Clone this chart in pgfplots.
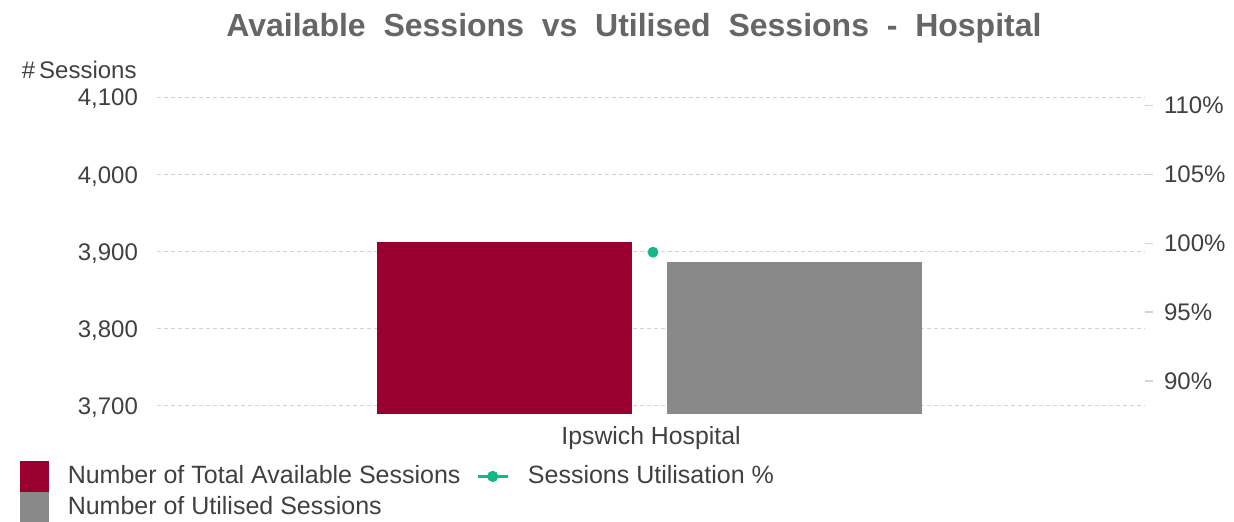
\documentclass[border=0pt]{standalone}
\usepackage{fontspec}
\setmainfont{Liberation Sans}
\usepackage{pgfplots}
\pgfplotsset{compat=1.18}
\definecolor{myred}{HTML}{990030}
\definecolor{mygray}{HTML}{898989}
\definecolor{mygreen}{HTML}{12B888}
\definecolor{txt}{HTML}{404040}
\definecolor{gridc}{HTML}{D4D4D4}
\definecolor{titlec}{HTML}{666666}
\begin{document}
\begin{tikzpicture}
\begin{axis}[
  at={(0,0)}, anchor=south west, scale only axis,
  width=494pt, height=158.5pt,
  xmin=-494, xmax=494, ymin=3689.6, ymax=4100,
  axis line style={draw=none},
  tick style={draw=none},
  ytick={3700,3800,3900,4000,4100},
  yticklabel style={text=txt, font=\fontsize{12}{14}\selectfont, xshift=-6pt, yshift=-1pt},
  /pgf/number format/.cd, 1000 sep={,}, assume math mode=true, /pgfplots/.cd,
  ymajorgrids,
  grid style={gridc, line width=0.5pt, dash pattern=on 2pt off 1.5pt},
  xtick={0}, xticklabels={Ipswich Hospital},
  xticklabel style={text=txt, font=\fontsize{12.4}{14}\selectfont, yshift=-2.5pt},
  clip=false,
]
\addplot[ybar, bar width=255, bar shift=0pt, fill=myred, draw=none] coordinates {(-147,3912)};
\addplot[ybar, bar width=255, bar shift=0pt, fill=mygray, draw=none] coordinates {(143.5,3886.5)};
\node[anchor=east, text=txt, font=\fontsize{12}{14}\selectfont, inner sep=0pt] at ([xshift=-10pt,yshift=13.5pt]rel axis cs:0,1) {\#\kern2pt Sessions};
\end{axis}
\begin{axis}[
  at={(0,0)}, anchor=south west, scale only axis,
  width=494pt, height=158.5pt,
  xmin=-494, xmax=494, ymin=87.6, ymax=110.6,
  axis y line*=right, axis x line=none,
  axis line style={draw=none},
  ytick={90,95,100,105,110},
  yticklabel={\pgfmathprintnumber{\tick}\%},
  yticklabel style={text=txt, font=\fontsize{12}{14}\selectfont, xshift=2pt},
  /pgf/number format/assume math mode=true,
  tick align=outside, major tick length=4pt,
  tick style={gridc, line width=0.6pt},
  legend columns=2,
  legend style={at={(-0.1387,-0.1483)}, anchor=north west, draw=none, fill=none,
    font=\fontsize{12.5}{14}\selectfont, text=txt, inner sep=0pt, outer sep=0pt,
    row sep=0pt,
    /tikz/every odd column/.append style={column sep=9.5pt},
    /tikz/every even column/.append style={column sep=8pt},
    nodes={inner ysep=0pt, inner xsep=0pt, minimum height=15pt}},
  legend cell align=left,
]
\addlegendimage{legend image code/.code={\fill[myred] (0pt,-7.5pt) rectangle (14pt,7.5pt);}}
\addlegendentry{Number of Total Available Sessions}
\addplot[mygreen, only marks, mark=*, mark size=2.5pt,
  legend image code/.code={\draw[mygreen, line width=1.2pt] (0pt,0pt) -- (15pt,0pt); \fill[mygreen] (7.5pt,0pt) circle (2.6pt);}]
  coordinates {(2,99.34)};
\addlegendentry{Sessions Utilisation \%}
\addlegendimage{legend image code/.code={\fill[mygray] (0pt,-7.5pt) rectangle (14pt,7.5pt);}}
\addlegendentry{Number of Utilised Sessions}
\end{axis}
\node[font=\bfseries\fontsize{16}{18}\selectfont, text=titlec] at (238.5pt,193pt) {Available\ \ Sessions\ \ vs\ \ Utilised\ \ Sessions\ \ -\ \ Hospital};
\pgfresetboundingbox
\path[use as bounding box] (-78.5pt,-53.5pt) rectangle (538.5pt,207pt);
\end{tikzpicture}
\end{document}
